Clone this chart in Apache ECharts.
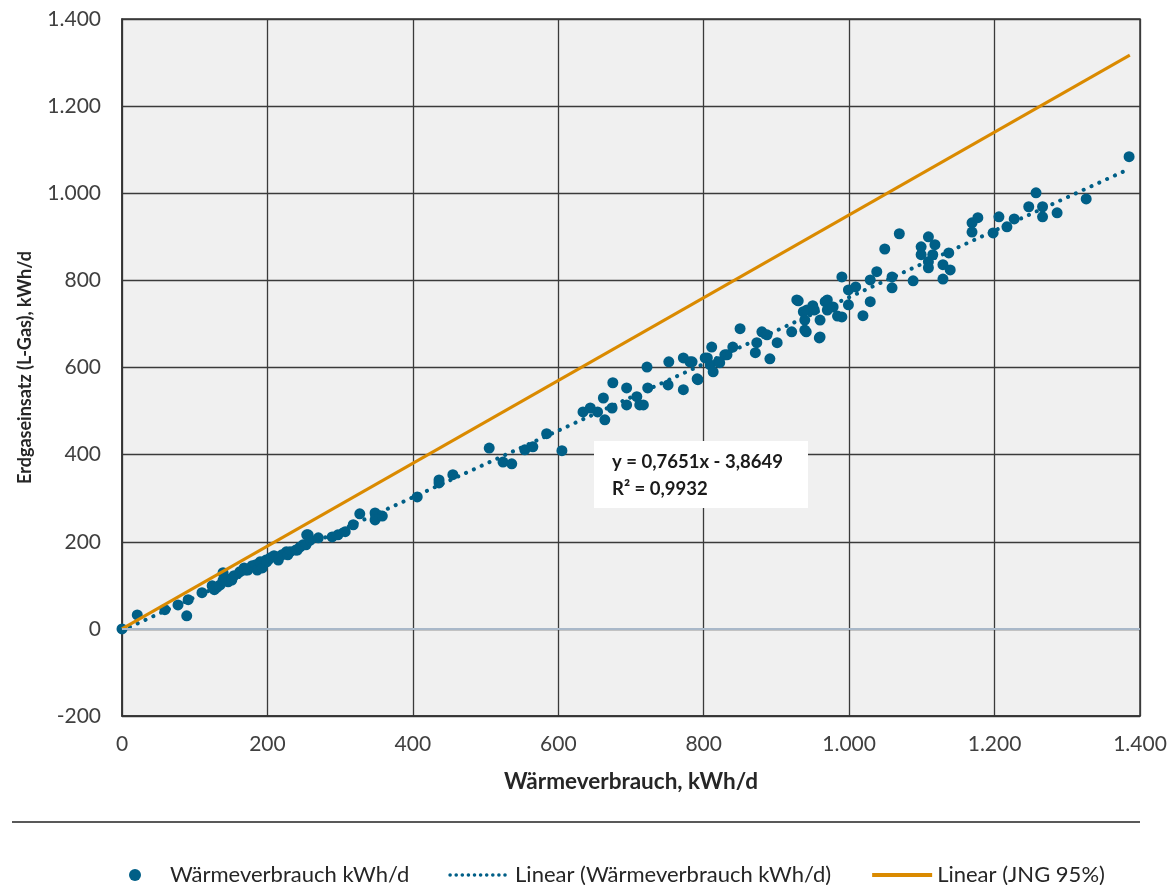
<!DOCTYPE html>
<html>
<head>
<meta charset="utf-8">
<script src="https://cdn.jsdelivr.net/npm/echarts@6/dist/echarts.min.js"></script>
<style>
  html, body { margin: 0; padding: 0; background: #fff; }
  #chart { width: 1174px; height: 885px; }
</style>
</head>
<body>
<div id="chart"></div>
<script>
// Wärmeverbrauch (x) and Erdgaseinsatz (y), kWh/d
const waerme = [
  0, 21, 59, 77, 89, 91, 110, 124, 127, 131, 135, 139, 139, 142, 146, 151, 154, 162, 168, 169,
  173, 179, 184, 186, 190, 193, 198, 199, 204, 209, 213, 215, 220, 226, 228, 231, 239, 241, 245, 249,
  253, 254, 256, 259, 270, 289, 297, 307, 318, 327, 348, 348, 358, 406, 436, 436, 455, 505, 524, 536,
  554, 565, 584, 605, 634, 644, 654, 662, 664, 674, 675, 694, 694, 708, 712, 717, 722, 723, 751, 752,
  772, 772, 781, 784, 791, 792, 802, 805, 809, 811, 813, 820, 822, 829, 832, 840, 850, 871, 873, 880,
  887, 891, 901, 921, 928, 930, 937, 939, 939, 941, 942, 950, 952, 959, 960, 960, 967, 970, 970, 978,
  984, 990, 990, 999, 999, 1009, 1019, 1029, 1029, 1038, 1049, 1059, 1059, 1069, 1088, 1099, 1099, 1109, 1109, 1109,
  1115, 1118, 1129, 1129, 1137, 1139, 1169, 1169, 1177, 1198, 1206, 1217, 1227, 1247, 1257, 1266, 1266, 1286, 1326, 1385
]
const gas = [
  0, 32, 44, 55, 30, 67, 83, 99, 90, 96, 101, 112, 129, 117, 108, 112, 122, 131, 140, 135,
  135, 145, 147, 135, 154, 140, 158, 154, 163, 168, 165, 158, 170, 177, 170, 177, 181, 181, 188, 193,
  193, 216, 216, 204, 209, 211, 216, 223, 239, 264, 266, 250, 259, 303, 342, 335, 354, 415, 383, 379,
  411, 418, 448, 409, 498, 507, 498, 530, 480, 507, 565, 553, 514, 533, 514, 514, 601, 553, 560, 613,
  549, 622, 613, 613, 574, 572, 622, 622, 606, 647, 590, 613, 611, 629, 629, 647, 689, 634, 657, 682,
  675, 620, 657, 682, 755, 753, 728, 709, 686, 682, 732, 742, 732, 668, 709, 670, 751, 755, 732, 739,
  718, 716, 808, 778, 744, 785, 719, 751, 801, 820, 872, 808, 783, 907, 799, 877, 859, 900, 843, 829,
  859, 882, 836, 803, 863, 824, 932, 911, 944, 909, 946, 923, 941, 969, 1001, 969, 946, 955, 987, 1084
]

// trend line endpoints (y = 0,7651x - 3,8649) and the JNG 95% line
const trendLine = [[0, -3.9], [1380, 1052]]
const jngLine = [[0, 0], [1386, 1317]]

const xTicks = { min: 0, max: 1400, step: 200 }
const yTicks = { min: -200, max: 1400, step: 200 }

const equationText = ['y = 0,7651x - 3,8649', 'R² = 0,9932']

const BLUE = '#005f87'
const ORANGE = '#da8a00'
const FONT = 'Lato, "Open Sans", sans-serif'

const fmt = v => {
  const s = String(Math.abs(v)).replace(/\B(?=(\d{3})+(?!\d))/g, '.')
  return v < 0 ? '-' + s : s
}

const chart = echarts.init(document.getElementById('chart'))

chart.setOption({
  animation: false,
  textStyle: { fontFamily: FONT },
  grid: {
    left: 122, right: 34, top: 19, bottom: 169,
    show: true,
    backgroundColor: '#f0f0f0',
    borderColor: '#333',
    borderWidth: 1.5
  },
  xAxis: {
    type: 'value',
    min: xTicks.min, max: xTicks.max, interval: xTicks.step,
    name: 'Wärmeverbrauch, kWh/d',
    nameLocation: 'middle',
    nameGap: 54,
    nameTextStyle: { fontSize: 22.5, fontWeight: 'bold', color: '#262626', fontFamily: FONT },
    axisLine: { onZero: false, lineStyle: { color: '#333', width: 1.5 } },
    axisTick: { show: false },
    axisLabel: { color: '#404040', fontSize: 21, margin: 18, formatter: fmt, fontFamily: FONT },
    splitLine: { show: true, lineStyle: { color: '#3a3a3a', width: 1.3 } }
  },
  yAxis: {
    type: 'value',
    min: yTicks.min, max: yTicks.max, interval: yTicks.step,
    name: 'Erdgaseinsatz (L-Gas), kWh/d',
    nameLocation: 'middle',
    nameGap: 88,
    nameRotate: 90,
    nameTextStyle: { fontSize: 18, fontWeight: 'bold', color: '#262626', fontFamily: FONT },
    axisLine: { show: true, lineStyle: { color: '#333', width: 1.5 } },
    axisTick: { show: false },
    axisLabel: { color: '#404040', fontSize: 21, margin: 21, formatter: fmt, fontFamily: FONT },
    splitLine: { show: true, lineStyle: { color: '#3a3a3a', width: 1.3 } }
  },
  legend: {
    left: 124,
    top: 859,
    itemWidth: 60,
    itemHeight: 12,
    itemGap: 39,
    textStyle: { fontSize: 22, color: '#262626', fontFamily: FONT },
    data: [
      { name: 'Wärmeverbrauch kWh/d', icon: 'circle' },
      { name: 'Linear (Wärmeverbrauch kWh/d)', itemStyle: { opacity: 0 }, lineStyle: { type: [0.1, 6], cap: 'round', width: 3.5 } },
      { name: 'Linear (JNG 95%)', itemStyle: { opacity: 0 }, lineStyle: { width: 4 } }
    ]
  },
  series: [
    {
      name: 'Wärmeverbrauch kWh/d',
      type: 'scatter',
      symbolSize: 11,
      itemStyle: { color: BLUE, opacity: 1 },
      z: 2,
      data: waerme.map((x, i) => [x, gas[i]]),
      markLine: {
        silent: true,
        symbol: 'none',
        label: { show: false },
        lineStyle: { color: '#a9b8c9', width: 2, type: 'solid' },
        data: [{ yAxis: 0 }]
      }
    },
    {
      name: 'Linear (Wärmeverbrauch kWh/d)',
      type: 'line',
      symbol: 'none',
      z: 3,
      lineStyle: { color: BLUE, width: 4, type: [0.1, 8.5], cap: 'round' },
      itemStyle: { color: BLUE },
      data: trendLine
    },
    {
      name: 'Linear (JNG 95%)',
      type: 'line',
      symbol: 'none',
      z: 4,
      lineStyle: { color: ORANGE, width: 3 },
      itemStyle: { color: ORANGE },
      data: jngLine
    }
  ],
  graphic: [
    {
      type: 'line',
      shape: { x1: 12, y1: 822, x2: 1140, y2: 822 },
      style: { stroke: '#222', lineWidth: 1.5 }
    },
    {
      type: 'rect',
      left: 594, top: 441,
      shape: { width: 214, height: 67 },
      style: { fill: '#fff' },
      z: 10
    },
    {
      type: 'text',
      left: 612, top: 449,
      z: 11,
      style: {
        text: equationText.join('\n'),
        font: 'bold 18.5px ' + FONT,
        lineHeight: 27,
        fill: '#1a1a1a'
      }
    }
  ]
})
</script>
</body>
</html>
